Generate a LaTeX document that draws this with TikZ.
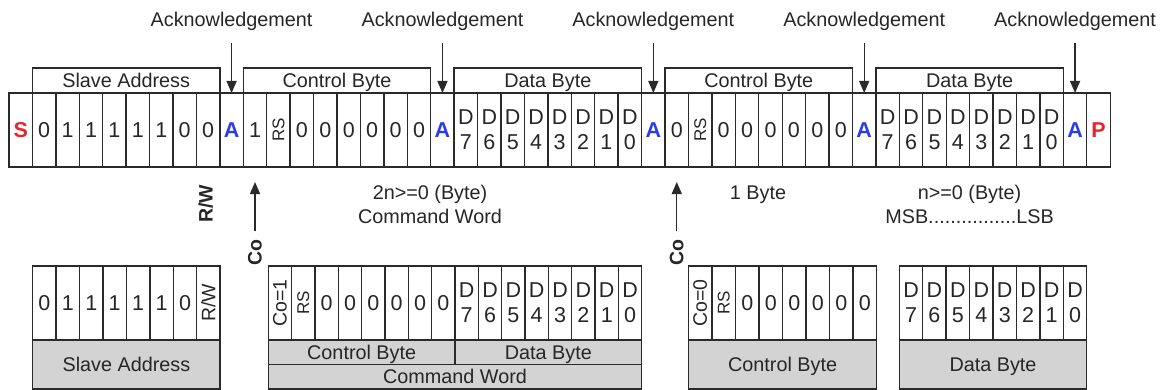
\documentclass[tikz,border=0pt]{standalone}
\usepackage{fontspec}
\setmainfont{Liberation Sans}
\usepackage{graphicx}
\usetikzlibrary{arrows.meta}
\definecolor{ln}{HTML}{2A2A2A}
\definecolor{tx}{HTML}{262626}
\definecolor{gfill}{HTML}{D3D3D3}
\definecolor{sred}{HTML}{E5262B}
\definecolor{ablue}{HTML}{2C3DE8}
\newcommand{\rsx}{\rotatebox{90}{\fontsize{17}{17}\selectfont RS}}
\newcommand{\rwx}{\rotatebox{90}{\fontsize{19.5}{19.5}\selectfont R/W}}
\newcommand{\cox}[1]{\rotatebox{90}{\fontsize{19.5}{19.5}\selectfont Co=#1}}
\newcommand{\dd}[1]{D\\#1}
\newcommand{\ackc}{\textbf{\textcolor{ablue}{A}}}
\begin{document}
\begin{tikzpicture}[x=1pt,y=-1pt,
  cell/.style={draw=ln,line width=1.4pt,minimum width=23.43pt,minimum height=74pt,inner sep=0pt,outer sep=0pt,anchor=north west,text=tx,align=center,font=\fontsize{21.5}{25}\selectfont},
  hdr/.style={draw=ln,line width=1.4pt,minimum width=187.44pt,minimum height=25pt,inner sep=0pt,outer sep=0pt,anchor=south west,text=tx,text height=14.4pt,text depth=0pt,font=\fontsize{19.8}{22}\selectfont},
  gbox/.style={draw=ln,fill=gfill,line width=1.4pt,inner sep=0pt,outer sep=0pt,anchor=north west,text=tx,text height=14.4pt,text depth=0pt,font=\fontsize{19.8}{22}\selectfont},
  lbl/.style={text=tx,font=\fontsize{19.8}{22}\selectfont,inner sep=0pt,anchor=base},
  rlbl/.style={text=tx,font=\fontsize{19.5}{20}\selectfont\bfseries,rotate=90,inner sep=0pt},
  arr/.style={draw=ln,line width=1.4pt,-{Triangle[length=12pt,width=10pt]}},
]
\useasboundingbox (0,0) rectangle (1166,390);

% ---- top row ----
\foreach \c [count=\i from 0] in {{\textbf{\textcolor{sred}{S}}},0,1,1,1,1,1,0,0,{\ackc},1,{\rsx},0,0,0,0,0,0,{\ackc},{\dd7},{\dd6},{\dd5},{\dd4},{\dd3},{\dd2},{\dd1},{\dd0},{\ackc},0,{\rsx},0,0,0,0,0,0,{\ackc},{\dd7},{\dd6},{\dd5},{\dd4},{\dd3},{\dd2},{\dd1},{\dd0},{\ackc},{\textbf{\textcolor{sred}{P}}}}
  \node[cell] (t\i) at ({9+\i*23.43},93) {\c};

% ---- headers ----
\node[hdr] (h1) at (t1.north west) {Slave Address};
\node[hdr] (h2) at (t10.north west) {Control Byte};
\node[hdr] (h3) at (t19.north west) {Data Byte};
\node[hdr] (h4) at (t28.north west) {Control Byte};
\node[hdr] (h5) at (t37.north west) {Data Byte};

% ---- acknowledgements ----
\foreach \k in {9,18,27,36,45}{
  \node[lbl] (ack\k) at (t\k.center |- 0,27) {Acknowledgement};
  \coordinate (ak\k) at (t\k.center |- 0,43);
  \draw[arr] (ak\k) -- (t\k.north);
}

% ---- middle labels ----
\node[rlbl] (rw) at (205.7,204) {R/W};
\node[rlbl] (co1) at (t10.center |- 0,252.5) {Co};
\coordinate (co1tip) at (t10.center |- 0,182);
\draw[arr,shorten <=8pt] (co1) -- (co1tip);
\node[rlbl] (co2) at (t28.center |- 0,252.5) {Co};
\coordinate (co2tip) at (t28.center |- 0,182);
\draw[arr,shorten <=8pt] (co2) -- (co2tip);

\node[lbl] (l1a) at (430,200) {2n>=0 (Byte)};
\node[lbl] (l1b) at (430,223.3) {Command Word};
\node[lbl] (l2a) at (758,200) {1 Byte};
\node[lbl] (l3a) at (969.5,200) {n>=0 (Byte)};
\node[lbl] (l3b) at (969.5,223.3) {MSB................LSB};

% ---- bottom groups ----
\foreach \c [count=\i from 0] in {0,1,1,1,1,1,0,{\rwx}}
  \node[cell] (b1-\i) at ({32.7+\i*23.43},266) {\c};
\foreach \c [count=\i from 0] in {{\cox1},{\rsx},0,0,0,0,0,0,{\dd7},{\dd6},{\dd5},{\dd4},{\dd3},{\dd2},{\dd1},{\dd0}}
  \node[cell,minimum width=23.34pt] (b2-\i) at ({268.3+\i*23.34},266) {\c};
\foreach \c [count=\i from 0] in {{\cox0},{\rsx},0,0,0,0,0,0}
  \node[cell,minimum width=23.52pt] (b3-\i) at ({688.5+\i*23.52},266) {\c};
\foreach \c [count=\i from 0] in {{\dd7},{\dd6},{\dd5},{\dd4},{\dd3},{\dd2},{\dd1},{\dd0}}
  \node[cell] (b4-\i) at ({899.3+\i*23.43},266) {\c};

\node[gbox,minimum width=187.44pt,minimum height=49pt] (g1) at (b1-0.south west) {Slave Address};
\node[gbox,minimum width=186.72pt,minimum height=24.5pt] (g2a) at (b2-0.south west) {Control Byte};
\node[gbox,minimum width=186.72pt,minimum height=24.5pt] (g2b) at (b2-8.south west) {Data Byte};
\node[gbox,minimum width=373.44pt,minimum height=24.5pt] (g2c) at (g2a.south west) {Command Word};
\node[gbox,minimum width=188.16pt,minimum height=49pt] (g3) at (b3-0.south west) {Control Byte};
\node[gbox,minimum width=187.44pt,minimum height=49pt] (g4) at (b4-0.south west) {Data Byte};
\end{tikzpicture}
\end{document}
